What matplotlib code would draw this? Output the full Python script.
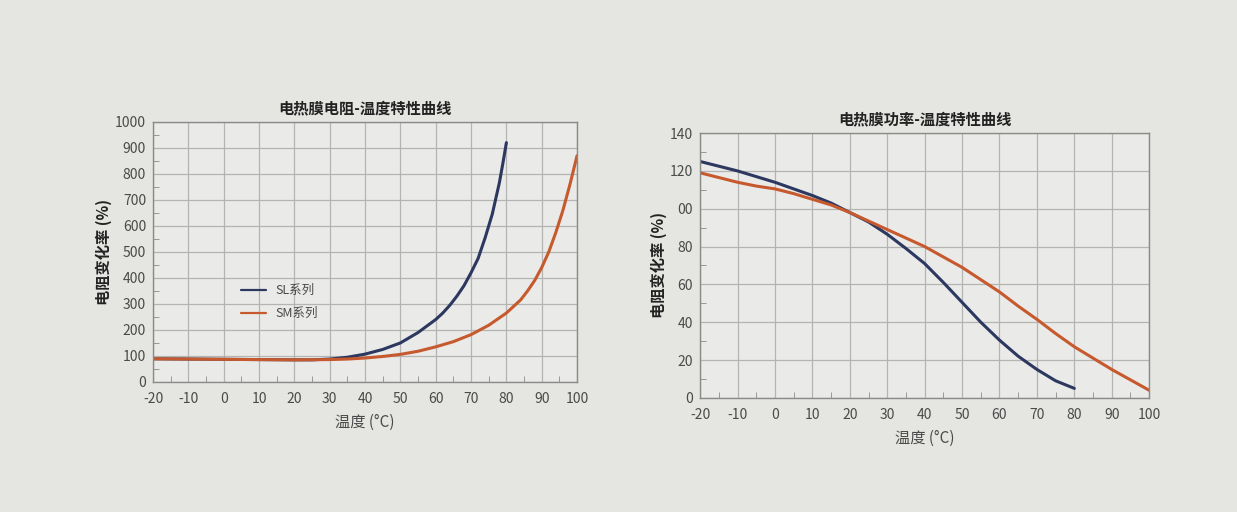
import matplotlib
matplotlib.use("Agg")
import matplotlib.pyplot as plt
from matplotlib.ticker import MultipleLocator, FixedLocator

plt.rcParams['font.family'] = ['Noto Sans CJK SC', 'DejaVu Sans']

# ---- Left chart: resistance vs temperature ----
r_sl_t = [-20, -10, 0, 10, 20, 25, 30, 35, 40, 45, 50, 55, 60, 62, 64, 66, 68, 70, 72, 74, 76, 78, 79, 80]
r_sl_v = [89, 88, 87, 86, 85, 85, 88, 95, 107, 125, 150, 190, 240, 265, 295, 330, 370, 420, 475, 555, 645, 765, 840, 920]
r_sm_t = [-20, -10, 0, 10, 20, 30, 35, 40, 45, 50, 55, 60, 65, 70, 75, 80, 84, 86, 88, 90, 92, 94, 96, 98, 100]
r_sm_v = [89, 88, 87, 86, 85, 86, 88, 92, 98, 106, 118, 135, 155, 182, 218, 265, 315, 350, 390, 440, 500, 575, 660, 760, 870]

# ---- Right chart: power vs temperature ----
p_sl_t = [-20, -15, -10, -5, 0, 5, 10, 15, 20, 25, 30, 35, 40, 45, 50, 55, 60, 65, 70, 75, 80]
p_sl_v = [125, 122.5, 120, 117, 114, 110.5, 107, 103, 98, 93, 86.5, 79, 71, 61, 50.5, 40, 30.5, 22, 15, 9, 5]
p_sm_t = [-20, -15, -10, -5, 0, 5, 10, 15, 20, 25, 30, 35, 40, 45, 50, 55, 60, 65, 70, 75, 80, 85, 90, 95, 100]
p_sm_v = [119, 116.5, 114, 112, 110.5, 108, 105, 102, 98, 93.5, 89, 84.5, 80, 74.5, 69, 62.5, 56, 48.5, 41.5, 34, 27, 21, 15, 9.5, 4]

x_ticks = [-20, -10, 0, 10, 20, 30, 40, 50, 60, 70, 80, 90, 100]
left_yticks = [0, 100, 200, 300, 400, 500, 600, 700, 800, 900, 1000]
right_yticks = [0, 20, 40, 60, 80, 100, 120, 140]
right_ylabels = ['0', '20', '40', '60', '80', '00', '120', '140']

series_names = ['SL系列', 'SM系列']
c_sl = '#2c3860'
c_sm = '#c65a2e'
bg = '#e5e5e2'
grid_c = '#b4b4b2'
txt_c = '#4a4a4a'

fig = plt.figure(figsize=(12.37, 5.12), dpi=100)
fig.patch.set_facecolor(bg)

ax1 = fig.add_axes([0.1237, 0.254, 0.3428, 0.508])
ax2 = fig.add_axes([0.566, 0.223, 0.363, 0.517])

def style(ax, yticks, ylabels, ymax, yminor):
    ax.set_facecolor('#eaeae8')
    ax.set_xlim(-20, 100)
    ax.set_ylim(0, ymax)
    ax.xaxis.set_major_locator(FixedLocator(x_ticks))
    ax.xaxis.set_minor_locator(MultipleLocator(5))
    ax.yaxis.set_major_locator(FixedLocator(yticks))
    ax.yaxis.set_minor_locator(MultipleLocator(yminor))
    ax.set_xticklabels([str(t) for t in x_ticks])
    ax.set_yticklabels(ylabels)
    ax.grid(True, which='major', color=grid_c, linewidth=0.9)
    ax.set_axisbelow(True)
    for s in ax.spines.values():
        s.set_color('#8a8a88')
        s.set_linewidth(1.0)
    ax.tick_params(which='major', length=0, labelsize=10, colors=txt_c)
    ax.tick_params(axis='x', which='major', pad=7)
    ax.tick_params(axis='y', which='major', pad=5)
    ax.tick_params(which='minor', direction='in', length=4, color='#8a8a88')
    ax.set_xlabel('温度 (°C)', fontsize=11, color=txt_c, labelpad=6)
    ax.set_ylabel('电阻变化率 (%)', fontsize=11, fontweight='bold', color='#222222', labelpad=2)

style(ax1, left_yticks, [str(v) for v in left_yticks], 1000, 50)
style(ax2, right_yticks, right_ylabels, 140, 10)

ax1.plot(r_sl_t, r_sl_v, color=c_sl, linewidth=2.2, label=series_names[0], solid_capstyle='round')
ax1.plot(r_sm_t, r_sm_v, color=c_sm, linewidth=2.2, label=series_names[1], solid_capstyle='round')
ax2.plot(p_sl_t, p_sl_v, color=c_sl, linewidth=2.2, solid_capstyle='round')
ax2.plot(p_sm_t, p_sm_v, color=c_sm, linewidth=2.2, solid_capstyle='round')

ax1.set_title('电热膜电阻-温度特性曲线', fontsize=11, fontweight='bold', color='#222222', pad=6)
ax2.set_title('电热膜功率-温度特性曲线', fontsize=11, fontweight='bold', color='#222222', pad=6)

leg = ax1.legend(loc='upper left', bbox_to_anchor=(0.18, 0.42), frameon=False,
                 fontsize=9, handlelength=2.0, labelspacing=0.8)
for line in leg.get_lines():
    line.set_linewidth(1.6)
for t in leg.get_texts():
    t.set_color(txt_c)

fig.savefig('out.png', dpi=100, facecolor=bg)
